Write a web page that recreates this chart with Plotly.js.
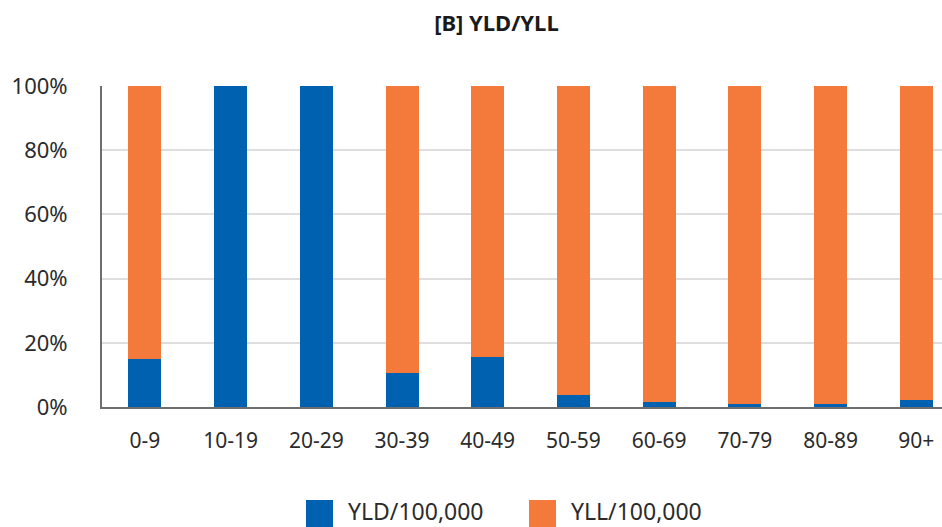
<!DOCTYPE html>
<html>
<head>
<meta charset="utf-8">
<script src="https://cdn.plot.ly/plotly-3.0.1.min.js"></script>
<style>
  html, body { margin: 0; padding: 0; background: #fff; }
  #chart { width: 942px; height: 527px; }
</style>
</head>
<body>
<div id="chart"></div>
<script>
// age groups and shares (% of total burden)
const ageGroups = ['0-9', '10-19', '20-29', '30-39', '40-49', '50-59', '60-69', '70-79', '80-89', '90+'];
const yldShare = [15, 100, 100, 10.6, 15.6, 3.7, 1.6, 0.9, 0.9, 2.2];
const yllShare = [85, 0, 0, 89.4, 84.4, 96.3, 98.4, 99.1, 99.1, 98.1];
const yTicks = [0, 20, 40, 60, 80, 100];
const seriesNames = ['YLD/100,000', 'YLL/100,000'];
const seriesColors = ['#0061b0', '#f37a3a'];

const font = 'Noto Sans, Open Sans, sans-serif';

const traces = [
  {type: 'bar', name: seriesNames[0], x: ageGroups, y: yldShare,
   marker: {color: seriesColors[0]}, showlegend: false, hoverinfo: 'x+y'},
  {type: 'bar', name: seriesNames[1], x: ageGroups, y: yllShare,
   marker: {color: seriesColors[1]}, showlegend: false, hoverinfo: 'x+y'}
];

// legend drawn by hand so the swatches can be as large as in the original
const legendX = [306, 529];
const shapes = [];
const annotations = [];
seriesNames.forEach((nm, i) => {
  shapes.push({type: 'rect', xref: 'paper', yref: 'paper',
    x0: (legendX[i] - 102) / 840, x1: (legendX[i] + 27 - 102) / 840,
    y0: -(500 - 407) / 321, y1: -(527 - 407) / 321,
    fillcolor: seriesColors[i], line: {width: 0}});
  annotations.push({xref: 'paper', yref: 'paper', showarrow: false,
    x: (legendX[i] + 40 - 102) / 840, y: -(511 - 407) / 321,
    xanchor: 'left', yanchor: 'middle', text: nm,
    font: {family: font, size: 23, color: '#2b2b2b'}});
});

const layout = {
  width: 942, height: 527,
  margin: {l: 102, r: 0, t: 86, b: 120},
  paper_bgcolor: '#fff', plot_bgcolor: '#fff',
  barmode: 'stack',
  bargap: 0.615,
  showlegend: false,
  title: {text: '<b>[B] YLD/YLL</b>', x: 0.527, xanchor: 'center', y: 0.955, yanchor: 'middle',
    font: {family: font, size: 22, color: '#1a1a1a'}},
  xaxis: {type: 'category', range: [-0.5, 9.3], showgrid: false, zeroline: false,
    showline: true, linecolor: '#6e6e6e', linewidth: 2, ticks: '',
    ticklabelstandoff: 14,
    tickfont: {family: font, size: 21, color: '#2b2b2b'}},
  yaxis: {range: [0, 100], tickvals: yTicks, ticktext: yTicks.map(v => v + '%'),
    showgrid: true, gridcolor: '#dedede', gridwidth: 2, zeroline: false,
    showline: true, linecolor: '#6e6e6e', linewidth: 2, ticks: '',
    ticklabelstandoff: 28,
    tickfont: {family: font, size: 22, color: '#2b2b2b'}},
  shapes: shapes,
  annotations: annotations
};

Plotly.newPlot('chart', traces, layout, {displayModeBar: false, staticPlot: true});
</script>
</body>
</html>
